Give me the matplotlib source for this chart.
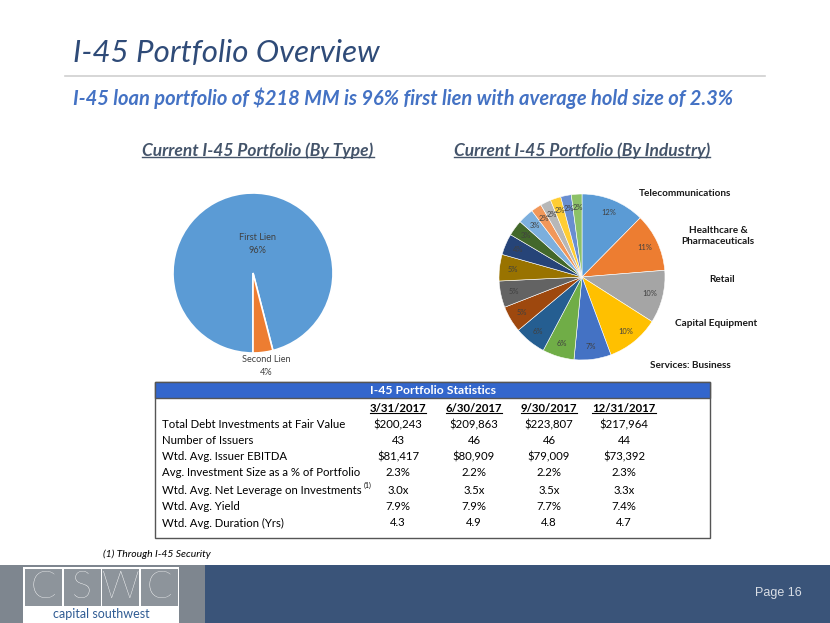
import matplotlib
matplotlib.use("Agg")
import matplotlib.pyplot as plt
from matplotlib.patches import Rectangle
from matplotlib.lines import Line2D

# ---------------- data ----------------
type_labels = ["First Lien", "Second Lien"]
type_values = [96, 4]

industry_values = [12, 11, 10, 10, 7, 6, 6, 5, 5, 5, 4, 3, 3, 2, 2, 2, 2, 2]
industry_names = ["Telecommunications", "Healthcare &\nPharmaceuticals", "Retail",
                  "Capital Equipment", "Services: Business"]
industry_colors = ["#5B9BD5", "#ED7D31", "#A5A5A5", "#FFC000", "#4472C4", "#70AD47",
                   "#255E91", "#9E480E", "#636363", "#997300", "#264478", "#43682B",
                   "#7CAFDD", "#F1975A", "#B7B7B7", "#FFCD33", "#698ED0", "#8CC168"]

table_title = "I-45 Portfolio Statistics"
dates = ["3/31/2017", "6/30/2017", "9/30/2017", "12/31/2017"]
row_labels = ["Total Debt Investments at Fair Value", "Number of Issuers",
              "Wtd. Avg. Issuer EBITDA", "Avg. Investment Size as a % of Portfolio",
              "Wtd. Avg. Net Leverage on Investments", "Wtd. Avg. Yield",
              "Wtd. Avg. Duration (Yrs)"]
fair_value = ["$200,243", "$209,863", "$223,807", "$217,964"]
issuers = ["43", "46", "46", "44"]
ebitda = ["$81,417", "$80,909", "$79,009", "$73,392"]
avg_size = ["2.3%", "2.2%", "2.2%", "2.3%"]
leverage = ["3.0x", "3.5x", "3.5x", "3.3x"]
yield_ = ["7.9%", "7.9%", "7.7%", "7.4%"]
duration = ["4.3", "4.9", "4.8", "4.7"]
table_rows = [fair_value, issuers, ebitda, avg_size, leverage, yield_, duration]

# ---------------- figure ----------------
W, H = 830, 623
FONT = "Lato"
plt.rcParams["font.family"] = [FONT, "DejaVu Sans"]
fig = plt.figure(figsize=(W / 100, H / 100), dpi=100)
ax0 = fig.add_axes([0, 0, 1, 1])
ax0.set_xlim(0, W)
ax0.set_ylim(H, 0)
ax0.axis("off")

# title & rule
ax0.text(73, 53, "I-45 Portfolio Overview", fontsize=22.5, style="italic",
         color="#2F4B78", va="center", ha="left")
ax0.add_line(Line2D([65, 765], [76, 76], color="#D0D0D0", lw=1.2))
ax0.text(73, 98, "I-45 loan portfolio of $218 MM is 96% first lien with average hold size of 2.3%",
         fontsize=14.5, style="italic", weight="bold", color="#4472C4", va="center", ha="left")

# section headings (underlined later)
heads = []
heads.append(ax0.text(258, 151, "Current I-45 Portfolio (By Type)", fontsize=12.5,
                      style="italic", weight="bold", color="#44546A", ha="center", va="center"))
heads.append(ax0.text(582, 151, "Current I-45 Portfolio (By Industry)", fontsize=12.5,
                      style="italic", weight="bold", color="#44546A", ha="center", va="center"))

# ---------------- pies ----------------
def pie_axes(cx, cy, r, L=1.25):
    w = 2 * r * L
    a = fig.add_axes([(cx - w / 2) / W, 1 - (cy + w / 2) / H, w / W, w / H])
    a.set_xlim(-L, L)
    a.set_ylim(-L, L)
    a.set_aspect("equal")
    a.axis("off")
    return a

axL = pie_axes(253, 273, 80)
axL.pie(type_values, colors=["#5B9BD5", "#ED7D31"], startangle=270,
        counterclock=False, radius=1,
        wedgeprops=dict(edgecolor="white", linewidth=1.2))
axL.set_xlim(-1.25, 1.25); axL.set_ylim(-1.25, 1.25)
axL.text(0.06, 0.36, f"{type_labels[0]}\n{type_values[0]}%", ha="center", va="center",
         fontsize=6.6, color="#404040", linespacing=1.5)
axL.text(0.17, -1.16, f"{type_labels[1]}\n{type_values[1]}%", ha="center", va="center",
         fontsize=6.6, color="#404040", linespacing=1.5)

axR = pie_axes(582, 277, 83)
axR.pie(industry_values, colors=industry_colors, startangle=90, counterclock=False,
        radius=1, labels=[f"{v}%" for v in industry_values], labeldistance=0.84,
        textprops=dict(fontsize=5.4, color="#404040", ha="center", va="center"),
        wedgeprops=dict(edgecolor="white", linewidth=0.4))
axR.set_xlim(-1.25, 1.25); axR.set_ylim(-1.25, 1.25)

name_pos = [(685, 194), (718, 236), (722, 280), (716, 323), (690, 366)]
for name, (x, y) in zip(industry_names, name_pos):
    ax0.text(x, y, name, fontsize=7.2, weight="bold", color="#1A1A1A", ha="center",
             va="center", linespacing=1.25)

# ---------------- table ----------------
tx0, tx1, ty0, ty1 = 155, 710, 382, 538
ax0.add_patch(Rectangle((tx0, ty0), tx1 - tx0, ty1 - ty0, facecolor="white",
                        edgecolor="#555555", lw=1.0, zorder=1))
ax0.add_patch(Rectangle((tx0, ty0), tx1 - tx0, 16, facecolor="#3366CC",
                        edgecolor="#555555", lw=1.0, zorder=2))
ax0.text((tx0 + tx1) / 2, ty0 + 8.5, table_title, fontsize=8.8, weight="bold",
         color="white", ha="center", va="center", zorder=3)
col_x = [398, 474, 549, 624]
date_texts = []
for x, d in zip(col_x, dates):
    date_texts.append(ax0.text(x, 409, d, fontsize=8.2, weight="bold", color="black",
                               ha="center", va="center", zorder=3))
row_y = [425, 441, 457, 473, 490, 507, 523]
for y, lab, vals in zip(row_y, row_labels, table_rows):
    ax0.text(162, y, lab, fontsize=8.2, color="black", ha="left", va="center", zorder=3)
    for x, v in zip(col_x, vals):
        ax0.text(x, y, v, fontsize=8.2, color="black", ha="center", va="center", zorder=3)
ax0.text(364, 485, "(1)", fontsize=5, color="black", ha="left", va="center", zorder=3)

ax0.text(103, 554, "(1) Through I-45 Security", fontsize=7.5, style="italic",
         color="black", ha="left", va="center")

# ---------------- footer ----------------
ax0.add_patch(Rectangle((0, 565), 205, 58, facecolor="#7E868F", edgecolor="none"))
ax0.add_patch(Rectangle((205, 565), 625, 58, facecolor="#3A5479", edgecolor="none"))
ax0.add_patch(Rectangle((23, 567), 156, 56, facecolor="white", edgecolor="none"))
cell_w = 37
for i, ch in enumerate("CSWC"):
    cx = 25 + i * (cell_w + 1.6)
    ax0.add_patch(Rectangle((cx, 568.5), cell_w, 37.5, facecolor="#8D949B", edgecolor="none"))
    ax0.text(cx + cell_w / 2, 588, ch, fontsize=27, color="white", weight="light",
             ha="center", va="center", family=["Lato", "DejaVu Sans"])
ax0.text(101, 614.5, "capital southwest", fontsize=9, color="#2F5B93", weight="normal",
         ha="center", va="center")
ax0.text(778, 593, "Page 16", fontsize=9, color="#D9DEE5", ha="center", va="center",
         family=["Liberation Sans Narrow", "Liberation Sans", "DejaVu Sans"])

# ---------------- underlines ----------------
fig.canvas.draw()
r = fig.canvas.get_renderer()
inv = ax0.transData.inverted()
def underline(t, color, off, lw):
    bb = t.get_window_extent(renderer=r)
    (x0, y0), (x1, y1) = inv.transform([[bb.x0, bb.y0], [bb.x1, bb.y1]])
    ax0.add_line(Line2D([x0, x1], [y0 - off, y0 - off], color=color, lw=lw, zorder=4))
for h in heads:
    underline(h, "#44546A", 2.5, 1.0)
for d in date_texts:
    underline(d, "black", 1.5, 0.8)

fig.savefig("out.png", dpi=100)
